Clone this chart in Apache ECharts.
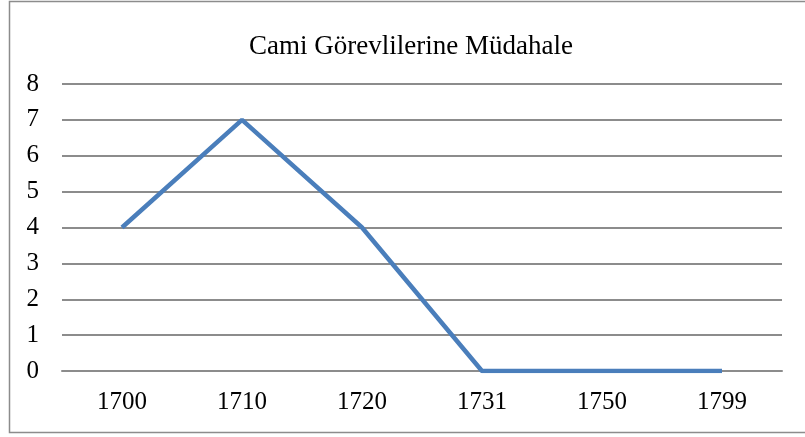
<!DOCTYPE html>
<html>
<head>
<meta charset="utf-8">
<script src="https://cdn.jsdelivr.net/npm/echarts@6/dist/echarts.min.js"></script>
<style>
    html, body {margin: 0; padding: 0; background: #fff;}
    #chart {width: 805px; height: 437px;}
</style>
</head>
<body>
<div id="chart"></div>
<script>
var years = ['1700', '1710', '1720', '1731', '1750', '1799'];   // yıllar
var counts = [4, 7, 4, 0, 0, 0];                                // müdahale sayısı
var yTicks = [0, 1, 2, 3, 4, 5, 6, 7, 8];

var serif = '"Liberation Serif", "DejaVu Serif", serif';

var myChart = echarts.init(document.getElementById('chart'));
myChart.setOption({
    animation: false,
    title: {
        text: 'Cami Görevlilerine Müdahale',
        left: 244,
        top: 28,
        textStyle: {fontFamily: serif, fontSize: 27, fontWeight: 'normal', color: '#000'}
    },
    graphic: [{
        type: 'rect',
        shape: {x: 9.5, y: 1.5, width: 810, height: 431},
        style: {fill: 'none', stroke: '#8c8c8c', lineWidth: 1.5},
        silent: true
    }],
    grid: {left: 62, right: 23, top: 84, bottom: 66, outerBoundsMode: 'none'},
    xAxis: {
        type: 'category',
        data: years,
        boundaryGap: true,
        axisLine: {lineStyle: {color: '#8c8c8c', width: 2}},
        axisTick: {show: false},
        axisLabel: {fontFamily: serif, fontSize: 25, color: '#000', margin: 19}
    },
    yAxis: {
        type: 'value',
        min: yTicks[0],
        max: yTicks[yTicks.length - 1],
        interval: 1,
        axisLine: {show: false},
        axisTick: {show: false},
        axisLabel: {fontFamily: serif, fontSize: 25, color: '#000', margin: 23},
        splitLine: {lineStyle: {color: '#8c8c8c', width: 2}}
    },
    series: [{
        type: 'line',
        data: counts,
        symbol: 'none',
        lineStyle: {color: '#4a7ebb', width: 4.5},
        itemStyle: {color: '#4a7ebb'}
    }]
});
</script>
</body>
</html>
